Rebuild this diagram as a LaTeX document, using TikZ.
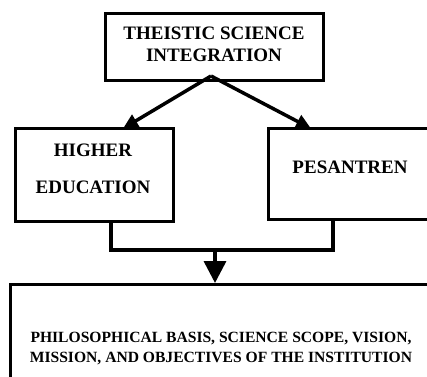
\documentclass[tikz,border=0pt]{standalone}
\usepackage{fontspec}
\setmainfont{Liberation Serif}
\usetikzlibrary{arrows.meta}

\begin{document}
\begin{tikzpicture}[
  x=1pt, y=-1pt,
  >={Triangle[length=15pt,width=14pt]},
  box/.style={draw, line width=3pt, inner sep=0pt},
  bigtext/.style={font=\fontsize{19}{22}\selectfont\bfseries, align=center},
  smalltext/.style={font=\fontsize{15.6}{20}\selectfont\bfseries, align=center},
  line width=3.5pt
]

\useasboundingbox (0,0) rectangle (427,376);
\clip (0,0) rectangle (427,376);

% ============================================================
% Top box
% ============================================================
\node[box, minimum width=218.5pt, minimum height=66.5pt] (theistic) at (214.25,46.75) {};
\node[bigtext] (theistic-txt) at (214,44) {THEISTIC SCIENCE\\INTEGRATION};

% ============================================================
% Middle boxes
% ============================================================
\node[box, minimum width=158.5pt, minimum height=92.5pt] (higher) at (94.25,174.75) {};
\node[bigtext] (higher-txt) at (93,168.5) {HIGHER\\[15pt]EDUCATION};

\node[box, minimum width=171.5pt, minimum height=90.5pt] (pesantren) at (354.25,173.75) {};
\node[bigtext] (pesantren-txt) at (350,167.5) {PESANTREN};

% Arrows: top box -> middle boxes
\coordinate (apex) at (211,76);
\draw[->] (apex) -- (123,128.5);
\draw[->] (apex) -- (311,128.5);

% ============================================================
% Bottom box
% ============================================================
\node[box, minimum width=430pt, minimum height=105.5pt] (basis) at (225,337.25) {};
\node[smalltext] (basis-txt) at (221,349)
  {PHILOSOPHICAL BASIS, SCIENCE SCOPE, VISION,\\MISSION, AND OBJECTIVES OF THE INSTITUTION};

% Joining line and arrow down
\coordinate (lfoot) at (111,250);
\coordinate (rfoot) at (333,250);
\coordinate (mid) at (215,250);
\draw (higher.south -| lfoot) -- (lfoot) -- (rfoot) -- (rfoot |- pesantren.south);
\draw[-{Triangle[length=22pt,width=22pt]}] (mid) -- (basis.north -| mid);

\end{tikzpicture}
\end{document}
